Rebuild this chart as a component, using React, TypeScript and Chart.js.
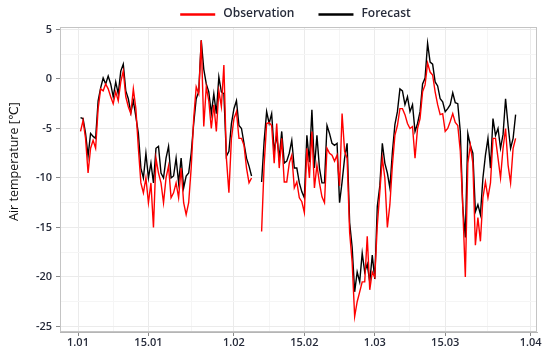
import React, { useEffect, useRef } from 'react';
import { Chart, registerables } from 'chart.js';

Chart.register(...registerables);

// Time axis: day offset from 1 January, one value every half day
const START_DAY = 0.5;
const STEP_DAYS = 0.5;

const seriesNames = ['Observation', 'Forecast'];
const seriesColors = ['#ff0000', '#000000'];
const yTitle = 'Air temperature [\u2103]';

// Observed air temperature (°C)
const observation: (number | null)[] = [
  -5.3, -4.2, -6.0, -9.5, -7.0, -6.2, -7.0, -3.0, -1.0, -1.2,
  -0.5, -1.0, -1.8, -2.5, -1.3, -2.2, -0.3, 0.8, -1.8, -2.8,
  -3.5, -1.0, -3.0, -7.0, -10.5, -11.5, -10.0, -12.5, -10.5, -15.0,
  -8.0, -9.5, -10.5, -12.5, -10.0, -8.8, -12.0, -11.5, -10.5, -12.0,
  -9.0, -12.5, -13.7, -12.5, -9.0, -4.0, -0.8, -1.5, 3.9, -4.8,
  -0.8, -2.2, -5.0, -2.6, -5.3, -1.2, -2.8, 1.4, -8.0, -11.5,
  -6.0, -4.0, -3.3, -6.0, -6.0, -6.7, -9.0, -10.5, -10.0, null,
  null, null, -15.4, -8.7, -4.5, -4.4, -4.7, -8.5, -4.5, -9.0,
  -6.0, -10.4, -10.4, -8.5, -7.7, -11.0, -10.4, -12.0, -12.4, -13.5,
  -7.0, -10.0, -5.3, -11.0, -8.7, -10.5, -11.9, -12.5, -7.0, -7.5,
  -7.7, -8.3, -7.7, -10.8, -3.5, -7.3, -8.0, -15.5, -18.5, -24.0,
  -22.5, -21.5, -20.5, -20.5, -15.9, -21.3, -19.5, -20.0, -14.8, -11.4,
  -8.0, -10.0, -15.0, -12.7, -8.7, -5.7, -4.7, -3.0, -3.0, -3.6,
  -4.5, -5.0, -4.8, -8.0, -5.0, -4.0, -1.3, -0.6, 1.6, 0.7,
  0.4, -1.3, -2.6, -3.6, -3.5, -5.3, -5.0, -4.3, -3.5, -4.4,
  -4.7, -7.3, -13.0, -20.0, -8.5, -6.7, -8.5, -16.8, -14.0, -16.4,
  -12.0, -10.4, -12.0, -10.5, -6.0, -6.0, -8.0, -10.0, -7.0, -5.0,
  -8.7, -10.5, -7.0, -6.0,
];

// Forecast air temperature (°C)
const forecast: (number | null)[] = [
  -3.9, -4.0, -5.5, -7.8, -5.5, -5.8, -6.0, -2.2, -0.9, 0.1,
  -0.5, 0.3, -0.5, -1.8, -0.3, -1.5, 0.8, 1.5, -1.2, -2.0,
  -3.4, -2.2, -3.8, -5.5, -9.0, -10.0, -7.5, -10.0, -8.5, -10.5,
  -7.0, -6.8, -9.5, -10.0, -8.0, -6.8, -10.0, -9.8, -8.0, -10.5,
  -8.0, -11.0, -9.8, -9.5, -7.5, -4.5, -2.0, -1.3, 3.9, 1.0,
  -0.5, -1.3, -3.5, -1.5, -3.5, 0.2, -1.3, -1.5, -7.8, -7.3,
  -4.5, -3.0, -2.2, -4.7, -5.0, -6.5, -8.0, -8.8, -9.8, null,
  null, null, -10.4, -6.3, -3.3, -4.5, -3.5, -7.3, -5.7, -8.0,
  -5.3, -8.5, -8.3, -7.5, -6.2, -9.0, -9.0, -10.5, -11.4, -12.0,
  -5.7, -8.4, -3.1, -9.0, -5.7, -9.0, -10.5, -10.5, -4.7, -5.5,
  -6.5, -6.7, -6.5, -12.5, -10.4, -8.0, -6.5, -14.5, -17.0, -21.5,
  -19.5, -20.5, -17.6, -19.5, -18.7, -20.5, -17.8, -20.2, -12.9, -10.8,
  -6.5, -8.5, -9.5, -11.0, -7.4, -4.6, -3.3, -1.0, -1.2, -2.6,
  -1.8, -3.3, -2.6, -5.3, -4.5, -3.3, -0.5, 0.1, 3.6, 1.7,
  1.5, -0.3, -0.7, -2.0, -2.3, -3.3, -3.0, -2.6, -1.4, -2.4,
  -2.5, -5.3, -13.0, -16.0, -5.5, -6.7, -7.5, -13.4, -12.7, -13.7,
  -10.0, -7.7, -6.0, -9.0, -4.0, -5.7, -5.0, -7.0, -5.6, -2.0,
  -4.7, -7.0, -6.0, -3.6,
];

// X axis (days from 1 January)
const tickDays = [0, 14, 31, 45, 59, 73, 90];
const tickLabels = ['1.01', '15.01', '1.02', '15.02', '1.03', '15.03', '1.04'];
const minorTickDays = [7, 22.5, 38, 52, 66, 81.5];

// Y axis
const yMajorTicks = [-25, -20, -15, -10, -5, 0, 5];
const yMinorTicks = [-22.5, -17.5, -12.5, -7.5, -2.5, 2.5];

const TEXT_COLOR = '#262b3a';
const FONT_FAMILY = '"Open Sans", "DejaVu Sans", sans-serif';

const decorPlugin = {
  id: 'decor',
  afterDraw(chart: any) {
    const { ctx, chartArea: a } = chart;
    ctx.save();
    // plot frame
    ctx.strokeStyle = '#c4c4c4';
    ctx.lineWidth = 1;
    ctx.strokeRect(a.left + 0.5, a.top + 0.5, a.right - a.left - 1, a.bottom - a.top - 1);

    // legend
    ctx.font = `600 12px ${FONT_FAMILY}`;
    ctx.textBaseline = 'middle';
    ctx.textAlign = 'left';
    const lineLen = 35;
    const gap = 8;
    const itemGap = 24;
    const widths = seriesNames.map((n) => lineLen + gap + ctx.measureText(n).width);
    const total = widths.reduce((s, w) => s + w, 0) + itemGap * (widths.length - 1);
    let x = (a.left + a.right) / 2 - total / 2 - 3;
    const y = 14;
    seriesNames.forEach((n, i) => {
      ctx.strokeStyle = seriesColors[i];
      ctx.lineWidth = 2.5;
      ctx.beginPath();
      ctx.moveTo(x, y + 0.5);
      ctx.lineTo(x + lineLen, y + 0.5);
      ctx.stroke();
      ctx.fillStyle = TEXT_COLOR;
      ctx.fillText(n, x + lineLen + gap, y);
      x += widths[i] + itemGap;
    });

    // y axis title
    ctx.translate(14, (a.top + a.bottom) / 2 - 18);
    ctx.rotate(-Math.PI / 2);
    ctx.textAlign = 'center';
    ctx.font = `12.5px ${FONT_FAMILY}`;
    ctx.fillStyle = '#111111';
    ctx.fillText(yTitle, 0, 0);
    ctx.restore();
  },
};

export default function App() {
  const canvasRef = useRef<HTMLCanvasElement | null>(null);

  useEffect(() => {
    if (!canvasRef.current) return;
    const toPoints = (arr: (number | null)[]) =>
      arr.map((v, i) => ({ x: START_DAY + i * STEP_DAYS, y: v }));
    const majorX = new Set(tickDays);
    const majorY = new Set(yMajorTicks);

    const chart = new Chart(canvasRef.current, {
      type: 'line',
      data: {
        datasets: [
          {
            label: seriesNames[0],
            data: toPoints(observation) as any,
            borderColor: seriesColors[0],
            backgroundColor: seriesColors[0],
            borderWidth: 1.4,
            pointRadius: 0,
            tension: 0,
            spanGaps: false,
          },
          {
            label: seriesNames[1],
            data: toPoints(forecast) as any,
            borderColor: seriesColors[1],
            backgroundColor: seriesColors[1],
            borderWidth: 1.4,
            pointRadius: 0,
            tension: 0,
            spanGaps: false,
          },
        ],
      },
      options: {
        animation: false,
        responsive: true,
        maintainAspectRatio: false,
        layout: { padding: { top: 27, right: 13, left: 0, bottom: 0 } },
        plugins: {
          legend: { display: false },
          tooltip: { enabled: false },
        },
        scales: {
          x: {
            type: 'linear',
            min: -3.58,
            max: 91.25,
            afterBuildTicks: (scale: any) => {
              scale.ticks = [...tickDays, ...minorTickDays]
                .sort((p, q) => p - q)
                .map((v) => ({ value: v }));
            },
            afterFit: (scale: any) => {
              scale.height = 21;
            },
            ticks: {
              autoSkip: false,
              maxRotation: 0,
              padding: 0,
              color: TEXT_COLOR,
              font: { family: FONT_FAMILY, size: 11, weight: '600' as any },
              callback: (value: any) => {
                const i = tickDays.indexOf(Number(value));
                return i >= 0 ? tickLabels[i] : '';
              },
            },
            grid: {
              color: (c: any) => (c.tick && majorX.has(c.tick.value) ? '#ebebeb' : '#f5f5f5'),
              tickColor: (c: any) => (c.tick && majorX.has(c.tick.value) ? '#8a8a8a' : 'rgba(0,0,0,0)'),
              tickLength: 4,
              lineWidth: 1,
            },
            border: { display: true, color: '#b5b5b5', width: 1 },
          },
          y: {
            type: 'linear',
            min: -25.56,
            max: 5.25,
            afterBuildTicks: (scale: any) => {
              scale.ticks = [...yMajorTicks, ...yMinorTicks]
                .sort((p, q) => p - q)
                .map((v) => ({ value: v }));
            },
            afterFit: (scale: any) => {
              scale.width = 60;
            },
            ticks: {
              autoSkip: false,
              padding: 4,
              color: TEXT_COLOR,
              font: { family: FONT_FAMILY, size: 11, weight: '600' as any },
              callback: (value: any) => (majorY.has(Number(value)) ? String(value) : ''),
            },
            grid: {
              color: (c: any) => (c.tick && majorY.has(c.tick.value) ? '#ebebeb' : '#f5f5f5'),
              tickColor: (c: any) => (c.tick && majorY.has(c.tick.value) ? '#8a8a8a' : 'rgba(0,0,0,0)'),
              tickLength: 4,
              lineWidth: 1,
            },
            border: { display: true, color: '#b5b5b5', width: 1 },
          },
        },
      },
      plugins: [decorPlugin],
    });
    return () => chart.destroy();
  }, []);

  return (
    <div style={{ position: 'absolute', left: 0, top: 0, width: 550, height: 353, background: '#ffffff' }}>
      <canvas ref={canvasRef} />
    </div>
  );
}
